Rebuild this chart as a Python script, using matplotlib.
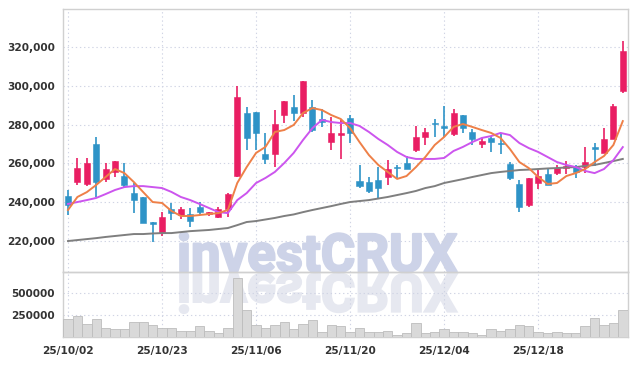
import matplotlib
matplotlib.use("Agg")
import matplotlib.pyplot as plt
import matplotlib.patheffects as pe
import numpy as np
from matplotlib.textpath import TextPath
from matplotlib.patches import PathPatch
from matplotlib.font_manager import FontProperties
from matplotlib.transforms import Affine2D, IdentityTransform
from matplotlib.ticker import FuncFormatter

# daily candles (KRW)
opens = [243200, 250500, 249400, 270000, 252000, 255600, 253500, 244800, 242700, 229800,
         224100, 236500, 233400, 233900, 237500, 233900, 232400, 236500, 253500, 286000,
         286500, 264800, 264800, 285000, 289100, 286000, 289100, 282900, 271000, 274600,
         283400, 250900, 250400, 251400, 253000, 258100, 260200, 266900, 273600, 280800,
         279300, 275200, 285000, 276200, 270000, 273100, 270500, 259700, 249400, 238600,
         249900, 254500, 255000, 257600, 258100, 258100, 268400, 265400, 272600, 297300]
highs = [246300, 262800, 262800, 273600, 260200, 261200, 260200, 249900, 242700, 229800,
         234900, 239600, 237500, 237000, 240100, 234900, 237500, 244700, 299900, 289100,
         286500, 275700, 287500, 292200, 295300, 302500, 292700, 288100, 283900, 282400,
         284900, 259200, 253000, 258100, 261800, 259200, 263800, 279300, 278300, 282900,
         289600, 288100, 285000, 277700, 273100, 274100, 275700, 260700, 251400, 252500,
         256600, 257100, 259200, 261200, 259200, 268400, 270500, 278300, 290600, 323100]
lows = [233400, 248900, 248400, 242700, 250400, 253000, 247300, 234400, 229300, 219500,
        222600, 230900, 231300, 227200, 233400, 232900, 231900, 232400, 253000, 266900,
        266900, 259700, 258100, 280800, 281900, 283900, 276200, 278800, 266900, 262300,
        270500, 247300, 244800, 242200, 248900, 252500, 257100, 265900, 269500, 273600,
        273600, 274100, 275700, 269500, 267900, 265900, 264800, 251400, 234900, 237500,
        246800, 248900, 254000, 254500, 252500, 255000, 258700, 265400, 272600, 296300]
closes = [238600, 257700, 260200, 250400, 257100, 261200, 248900, 241100, 229300, 228800,
          232400, 234400, 236500, 230300, 234900, 234900, 236500, 244200, 294200, 273100,
          275700, 262300, 280300, 292200, 286000, 302500, 277200, 281300, 275700, 275700,
          275700, 248400, 245800, 247300, 257100, 257600, 257100, 273600, 276200, 280300,
          278300, 286000, 278300, 272600, 271500, 271000, 270000, 252500, 237500, 252500,
          253500, 248900, 257600, 258700, 255600, 260700, 267400, 272600, 289600, 317900]
volumes = [202, 239, 150, 202, 101, 90, 90, 168, 168, 138,
           101, 101, 71, 71, 123, 71, 45, 101, 661, 303,
           138, 101, 138, 168, 90, 150, 194, 64, 142, 131,
           56, 105, 64, 64, 75, 30, 45, 161, 45, 64,
           94, 64, 64, 49, 30, 94, 75, 94, 138, 131,
           64, 49, 64, 49, 49, 127, 217, 138, 161, 307]
volumes = [v * 1000 for v in volumes]

# moving averages (thousands)
ma5 = [236.0, 242.7, 245.2, 248.9, 253.0, 257.1, 255.0, 250.4, 245.2, 240.1,
       239.6, 235.5, 232.9, 232.9, 233.4, 233.9, 234.4, 236.0, 249.9, 258.1,
       265.4, 268.5, 276.2, 277.2, 279.8, 286.0, 288.5, 287.5, 284.9, 282.9,
       278.2, 271.0, 264.3, 259.2, 255.6, 252.0, 253.5, 258.1, 263.3, 269.5,
       273.6, 278.8, 280.3, 278.8, 277.2, 275.7, 273.1, 267.4, 260.7, 257.6,
       253.0, 249.4, 249.9, 253.5, 255.0, 257.1, 260.7, 263.8, 269.5, 281.8]
ma20 = [239.1, 240.1, 241.1, 242.2, 244.2, 246.3, 247.8, 248.3, 248.3, 247.8,
        247.3, 245.3, 242.7, 241.1, 239.1, 237.0, 234.9, 234.4, 241.1, 244.7,
        249.9, 252.5, 255.6, 260.2, 265.4, 272.1, 278.2, 282.4, 281.3, 280.8,
        280.8, 279.3, 276.2, 272.6, 269.5, 265.9, 263.3, 262.3, 262.3, 262.3,
        262.8, 266.4, 268.5, 271.0, 273.1, 274.1, 275.7, 274.6, 270.5, 267.9,
        265.9, 263.3, 260.7, 259.2, 258.1, 256.1, 255.0, 257.1, 261.7, 268.4]
ma60 = [220.0, 220.5, 221.0, 221.5, 222.1, 222.6, 223.1, 223.6, 223.6, 223.9,
        224.1, 224.1, 224.6, 225.1, 225.4, 225.7, 226.2, 226.7, 228.2, 229.8,
        230.3, 231.1, 231.9, 232.9, 233.7, 234.9, 236.0, 237.0, 238.0, 239.1,
        240.1, 240.6, 241.1, 241.9, 242.7, 243.7, 244.7, 245.8, 247.3, 248.3,
        249.9, 250.9, 251.9, 253.0, 254.0, 255.0, 255.6, 256.1, 256.6, 256.8,
        257.1, 257.4, 257.6, 257.9, 258.1, 258.7, 259.2, 260.2, 261.2, 262.3]

tick_idx = [0, 10, 20, 30, 40, 50]
tick_labels = ['25/10/02', '25/10/23', '25/11/06', '25/11/20', '25/12/04', '25/12/18']

UP = '#e91e63'
DOWN = '#2e93c7'
GRID = '#d0d4e4'
SPINE = '#d0d0d0'

W, H = 637, 366
fig = plt.figure(figsize=(W / 100, H / 100), dpi=100)
fig.patch.set_facecolor('white')

def box(x0, y0, x1, y1):
    return [x0 / W, 1 - y1 / H, (x1 - x0) / W, (y1 - y0) / H]

ax = fig.add_axes(box(63.3, 9.3, 627.5, 271.7))
axv = fig.add_axes(box(63.3, 271.7, 627.5, 337.3), sharex=ax)
for a in (ax, axv):
    a.set_facecolor('none')
    for s in a.spines.values():
        s.set_color(SPINE)
        s.set_linewidth(1.0)

x = np.arange(len(closes))
o = np.array(opens); c = np.array(closes)
h = np.array(highs); l = np.array(lows)
up = c >= o
cols = np.where(up, UP, DOWN)

ax.vlines(x, l, h, colors=cols, linewidth=1.2, zorder=3)
body_lo = np.minimum(o, c)
body_h = np.maximum(np.abs(c - o), 600)
ax.bar(x, body_h, bottom=body_lo, width=0.64, color=cols, edgecolor=cols,
       linewidth=0.4, zorder=4)

ax.plot(x, np.array(ma60) * 1000, color='#7f7f7f', linewidth=1.4, zorder=5)
ax.plot(x, np.array(ma20) * 1000, color='#cc55ee', linewidth=1.4, zorder=5)
ax.plot(x, np.array(ma5) * 1000, color='#ee8048', linewidth=1.4, zorder=5)

ax.set_xlim(-0.5, 59.5)
ax.set_ylim(204200, 339400)
ax.set_yticks([220000, 240000, 260000, 280000, 300000, 320000])
ax.yaxis.set_major_formatter(FuncFormatter(lambda v, p: f'{int(v):,}'))
ax.grid(True, color=GRID, linestyle=(0, (1.2, 2.5)), linewidth=0.8, zorder=0)
ax.tick_params(axis='y', length=0, pad=6, labelsize=7.6, labelcolor='#333333')
ax.tick_params(axis='x', length=0, labelbottom=False)
for t in ax.get_yticklabels():
    t.set_fontweight('bold')

axv.bar(x, volumes, width=1.0, color='#d9d9d9', edgecolor='#bdbdbd',
        linewidth=0.6, zorder=3)
axv.set_ylim(0, 735000)
axv.set_yticks([250000, 500000])
axv.set_yticklabels(['250000', '500000'])
axv.set_xticks(tick_idx)
axv.set_xticklabels(tick_labels)
axv.grid(True, color=GRID, linestyle=(0, (1.2, 2.5)), linewidth=0.8, zorder=0)
axv.tick_params(axis='both', length=0, pad=6, labelsize=7.6, labelcolor='#333333')
for t in axv.get_yticklabels() + axv.get_xticklabels():
    t.set_fontweight('bold')
ax.set_xticks(tick_idx)

# watermark with reflection (stroke makes the glyphs heavier)
wm_size = 38.0
wm_font = FontProperties(family='Roboto', weight='bold', size=wm_size)
wm_col, refl_col = '#cdd3e8', '#e6e8f0'
wm_x, wm_base = 177, 271.5
fig.text(wm_x / W, 1 - wm_base / H, 'investCRUX', fontproperties=wm_font,
         color=wm_col, ha='left', va='baseline', zorder=-2,
         path_effects=[pe.withStroke(linewidth=1.6, foreground=wm_col)])
tp = TextPath((0, 0), 'investCRUX', size=wm_size, prop=wm_font)
k = fig.dpi / 72
tr = Affine2D().scale(k, -k).translate(wm_x, H - wm_base - 2.5)
refl = PathPatch(tr.transform_path(tp), facecolor=refl_col, edgecolor=refl_col,
                 linewidth=1.6, transform=IdentityTransform(), zorder=-2)
fig.patches.append(refl)

fig.savefig('out.png', dpi=100)
